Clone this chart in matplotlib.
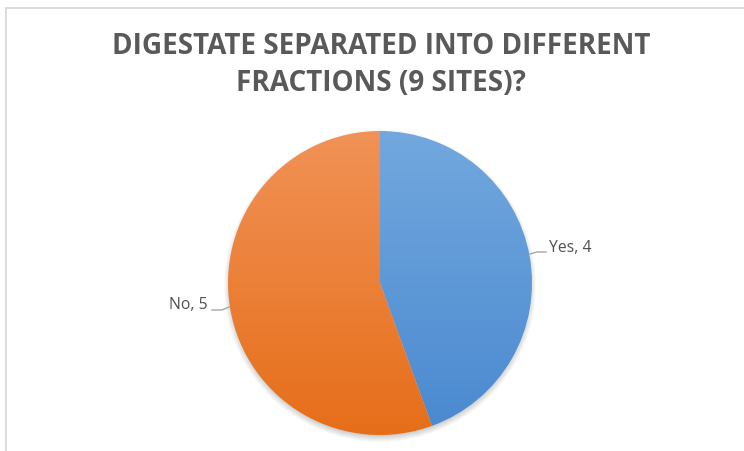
import numpy as np
import matplotlib
matplotlib.use("Agg")
import matplotlib.pyplot as plt
from matplotlib.patches import Rectangle, Circle
from matplotlib.colors import LinearSegmentedColormap

# Survey answers
categories = ["Yes", "No"]
counts = [4, 5]
title = "DIGESTATE SEPARATED INTO DIFFERENT\nFRACTIONS (9 SITES)?"

W, H = 744, 452
fig = plt.figure(figsize=(W / 100, H / 100), dpi=100)
ax = fig.add_axes([0, 0, 1, 1])

cx, cy, r = 380, H - 284, 152

# soft drop shadow under the pie
for i in range(10):
    ax.add_patch(Circle((cx, cy - 3), r + 4 - i * 0.7, color="black",
                        alpha=0.018, lw=0, zorder=1))

wedges, _ = ax.pie(counts, startangle=90, counterclock=False,
                   center=(cx, cy), radius=r,
                   wedgeprops=dict(linewidth=0))

# vertical gradients (light at top, darker at bottom)
grads = [("#72a8de", "#4a89d0"), ("#f19257", "#e66e19")]
yy = np.linspace(0, 1, 256).reshape(-1, 1)
for w, (top, bot) in zip(wedges, grads):
    w.set_facecolor("none")
    w.set_zorder(3)
    cmap = LinearSegmentedColormap.from_list("g", [bot, top])
    im = ax.imshow(yy, cmap=cmap, origin="lower", aspect="auto",
                   extent=(cx - r, cx + r, cy - r, cy + r), zorder=2,
                   interpolation="bilinear")
    im.set_clip_path(w)

ax.set_xlim(0, W)
ax.set_ylim(0, H)
ax.set_aspect("auto")
ax.axis("off")

# chart frame
ax.add_patch(Rectangle((5.5, -10), W + 20, H - 8.5 + 10, fill=False,
                       edgecolor="#d9d9d9", lw=1.3, zorder=0))

txt = "#595959"
ax.text(381, H - 65, title, ha="center", va="center", fontsize=20.1,
        fontweight="bold", color=txt, family="Open Sans", linespacing=1.32)

# data labels with leader lines
labels = [f"{c}, {v}" for c, v in zip(categories, counts)]
ax.plot([530, 537, 546], [H - 255, H - 253, H - 253], color="#a6a6a6", lw=1, zorder=4)
ax.text(549, H - 248, labels[0], ha="left", va="center", fontsize=11.3,
        color="#505050", family="Open Sans")
ax.plot([212, 222, 229], [H - 311, H - 311, H - 308], color="#a6a6a6", lw=1, zorder=4)
ax.text(208, H - 305, labels[1], ha="right", va="center", fontsize=11.3,
        color="#505050", family="Open Sans")

fig.savefig("out.png", dpi=100, facecolor="white")
